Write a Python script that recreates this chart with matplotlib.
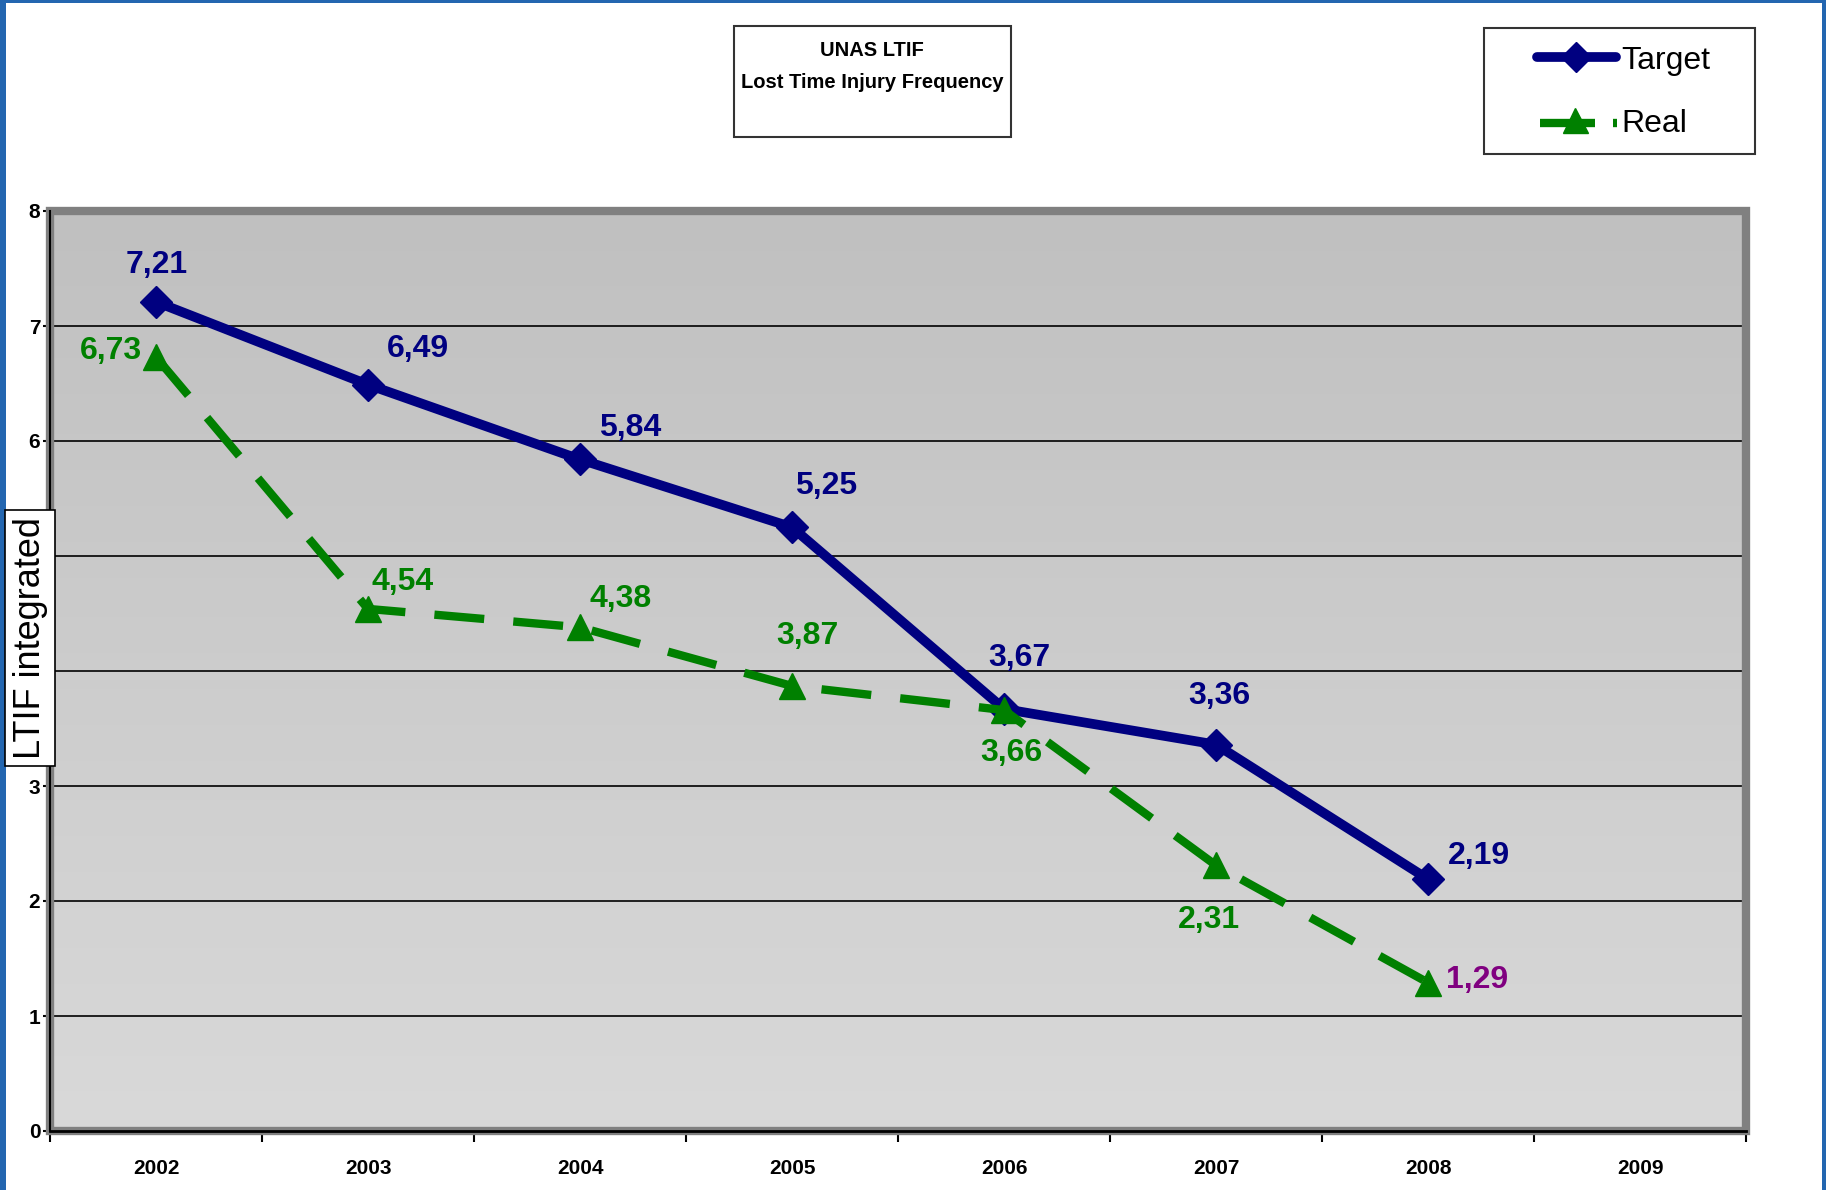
import numpy as np
import matplotlib
matplotlib.use("Agg")
import matplotlib.pyplot as plt
from matplotlib.patches import Rectangle
from matplotlib.lines import Line2D

# ---- data ----
years = ["2002", "2003", "2004", "2005", "2006", "2007", "2008", "2009"]
target = [7.21, 6.49, 5.84, 5.25, 3.67, 3.36, 2.19]
real = [6.73, 4.54, 4.38, 3.87, 3.66, 2.31, 1.29]
title_lines = ["UNAS LTIF", "Lost Time Injury Frequency"]
ylabel = "LTIF integrated"
series_names = ["Target", "Real"]
y_ticks = [0, 1, 2, 3, 4, 5, 6, 7, 8]
y_tick_labels = ["0", "1", "2", "3", "", "", "6", "7", "8"]  # 4 and 5 hidden behind the label box

# ---- style ----
BOLDF = ["Liberation Sans", "DejaVu Sans"]
NAVY = "#000080"
GREEN = "#008000"
PURPLE = "#800080"
BLUE_EDGE = "#2366b0"

target_offsets = [(1, 37), (50, 36), (50, 31), (34, 41), (15, 51), (3, 49), (51, 23)]
real_offsets = [(-45, 6), (35, 27), (41, 28), (15, 50), (7, -43), (-7, -55), (49, 3)]
real_label_colors = [GREEN] * 6 + [PURPLE]

W, H = 1826, 1190
fig = plt.figure(figsize=(W / 100, H / 100), dpi=100)
fig.patch.set_facecolor("white")

ax_l, ax_r, ax_t, ax_b = 50, 1746, 211, 1131
ax = fig.add_axes([ax_l / W, 1 - ax_b / H, (ax_r - ax_l) / W, (ax_b - ax_t) / H])

x = np.arange(len(years))
ax.set_xlim(-0.5, len(years) - 0.5)
ax.set_ylim(0, 8)

# gradient background
grad = np.linspace(0, 1, 256)[:, None]
top_c = np.array([192, 192, 192]) / 255
bot_c = np.array([217, 217, 217]) / 255
img = top_c[None, None, :] * (1 - grad[:, :, None]) + bot_c[None, None, :] * grad[:, :, None]
ax.imshow(img, extent=[-0.5, len(years) - 0.5, 0, 8], aspect="auto", zorder=0, origin="upper")

# grid lines
for gy in range(1, 8):
    ax.axhline(gy, color="black", lw=1.2, zorder=1)

# 3D-ish gray frame
ax.add_patch(Rectangle((0, 0), 1, 1, transform=ax.transAxes, fill=False,
                       edgecolor="#808080", lw=6, zorder=2, clip_on=False))
for s in ["top", "right"]:
    ax.spines[s].set_visible(False)
ax.spines["left"].set_color("black")
ax.spines["left"].set_linewidth(1.5)
ax.spines["bottom"].set_color("black")
ax.spines["bottom"].set_linewidth(2.0)
ax.spines["left"].set_zorder(3)
ax.spines["bottom"].set_zorder(3)

# lines
ax.plot(x[:len(target)], target, color=NAVY, lw=7, marker="D", ms=16,
        solid_joinstyle="miter", zorder=4)
ax.plot(x[:len(real)], real, color=GREEN, lw=6, marker="^", ms=19,
        dashes=(6, 3.5), dash_capstyle="butt", zorder=5)

# data labels
def fmt(v):
    return f"{v:.2f}".replace(".", ",")

for i, v in enumerate(target):
    ax.annotate(fmt(v), (x[i], v), xytext=target_offsets[i], textcoords="offset pixels",
                ha="center", va="center", color=NAVY, fontsize=23, fontweight="bold",
                family=BOLDF, zorder=6)
for i, v in enumerate(real):
    ax.annotate(fmt(v), (x[i], v), xytext=real_offsets[i], textcoords="offset pixels",
                ha="center", va="center", color=real_label_colors[i], fontsize=23,
                fontweight="bold", family=BOLDF, zorder=6)

# ticks
ax.set_xticks(x)
ax.set_xticklabels(years, fontsize=15, fontweight="bold", family=BOLDF)
ax.set_xticks(np.arange(-0.5, len(years)), minor=True)
ax.tick_params(axis="x", which="major", length=0, pad=20)
ax.tick_params(axis="x", which="minor", length=8, width=1.5, direction="out")
ax.set_yticks(y_ticks)
ax.set_yticklabels(y_tick_labels, fontsize=15, fontweight="bold", family=BOLDF)
ax.tick_params(axis="y", length=5, width=1.5, pad=2)

# y label box
fig.text(30 / W, 1 - 638 / H, ylabel, rotation=90, ha="center", va="center",
         fontsize=26, family=BOLDF, color="black",
         bbox=dict(boxstyle="square,pad=0.2", facecolor="white", edgecolor="black", lw=1.2))

# title box
fig.patches.append(Rectangle((734 / W, 1 - 137 / H), (1011 - 734) / W, (137 - 26) / H,
                             transform=fig.transFigure, facecolor="white",
                             edgecolor="#333333", lw=1.5))
fig.text(872 / W, 1 - 50 / H, title_lines[0], ha="center", va="center",
         fontsize=14.5, fontweight="bold", family=BOLDF)
fig.text(872 / W, 1 - 82 / H, title_lines[1], ha="center", va="center",
         fontsize=14.5, fontweight="bold", family=BOLDF)

# legend (drawn manually to match the reference's layout)
fig.patches.append(Rectangle((1484 / W, 1 - 154 / H), (1755 - 1484) / W, (154 - 28) / H,
                             transform=fig.transFigure, facecolor="white",
                             edgecolor="#333333", lw=1.5))
fy = lambda p: 1 - p / H
fx = lambda p: p / W
fig.lines.append(Line2D([fx(1537), fx(1616)], [fy(57), fy(57)], transform=fig.transFigure,
                        color=NAVY, lw=7, solid_capstyle="round"))
fig.lines.append(Line2D([fx(1576)], [fy(57)], transform=fig.transFigure,
                        color=NAVY, marker="D", ms=15, lw=0))
fig.lines.append(Line2D([fx(1540), fx(1595)], [fy(123), fy(123)], transform=fig.transFigure,
                        color=GREEN, lw=6, solid_capstyle="butt"))
fig.lines.append(Line2D([fx(1613), fx(1617)], [fy(123), fy(123)], transform=fig.transFigure,
                        color=GREEN, lw=6, solid_capstyle="butt"))
fig.lines.append(Line2D([fx(1575)], [fy(120)], transform=fig.transFigure,
                        color=GREEN, marker="^", ms=18, lw=0))
fig.text(fx(1621), fy(61), series_names[0], ha="left", va="center", fontsize=23, family=BOLDF)
fig.text(fx(1621), fy(124), series_names[1], ha="left", va="center", fontsize=23, family=BOLDF)

# blue outer border
fig.patches.append(Rectangle((0, 0), 6 / W, 1, transform=fig.transFigure,
                             facecolor=BLUE_EDGE, edgecolor="none"))
fig.patches.append(Rectangle((0, 1 - 3 / H), 1, 3 / H, transform=fig.transFigure,
                             facecolor=BLUE_EDGE, edgecolor="none"))
fig.patches.append(Rectangle((1 - 4 / W, 0), 4 / W, 1, transform=fig.transFigure,
                             facecolor=BLUE_EDGE, edgecolor="none"))

fig.savefig("out.png", dpi=100, facecolor="white")
